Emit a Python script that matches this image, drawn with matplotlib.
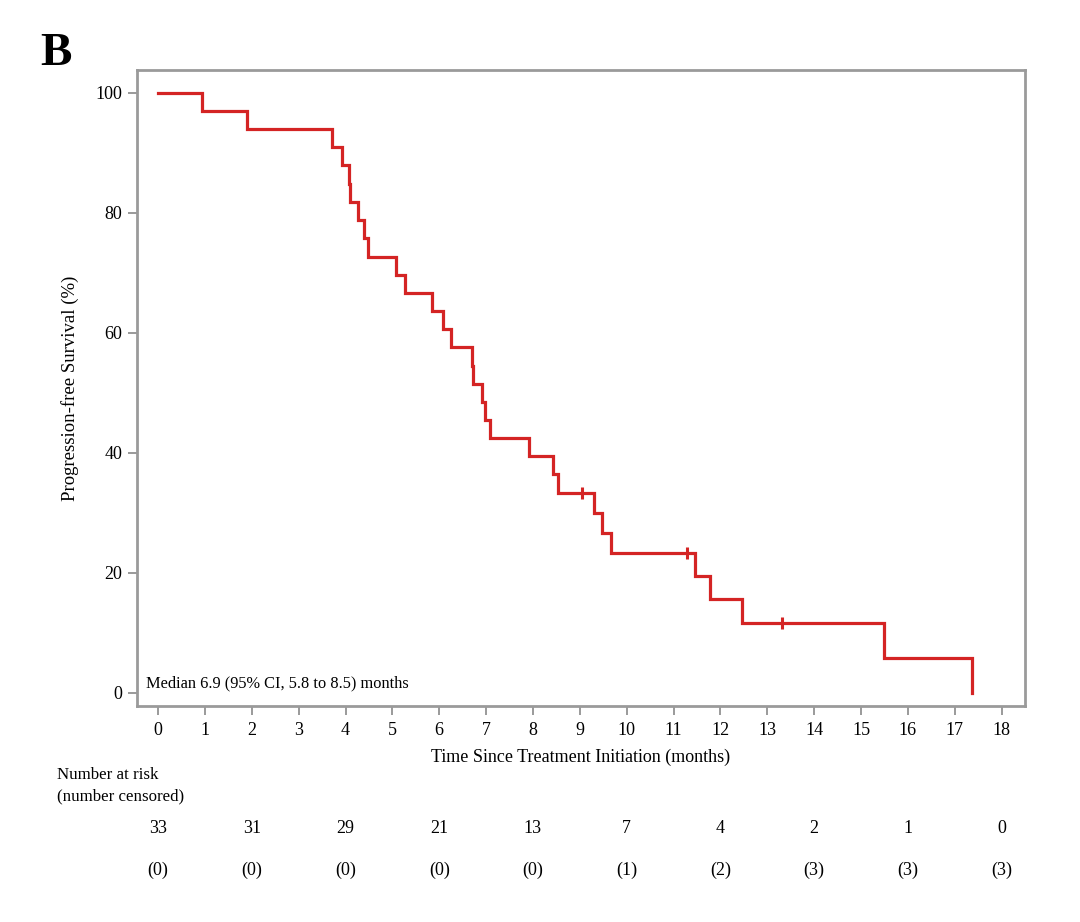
import matplotlib
matplotlib.use("Agg")
import matplotlib.pyplot as plt
from matplotlib.transforms import blended_transform_factory

plt.rcParams['font.family'] = ['Liberation Serif', 'DejaVu Serif']

# Kaplan-Meier step data (months, % progression-free)
step_times = [0, 0.93, 1.89, 3.71, 3.92, 4.07, 4.10, 4.26, 4.40, 4.49, 5.08, 5.27,
              5.84, 6.09, 6.25, 6.70, 6.72, 6.91, 6.98, 7.09, 7.91, 8.43, 8.53,
              9.31, 9.47, 9.66, 11.45, 11.77, 12.46, 15.49, 17.37]
step_surv = [100, 97.0, 93.9, 90.9, 87.9, 84.8, 81.8, 78.8, 75.8, 72.7, 69.7, 66.7,
             63.6, 60.6, 57.6, 54.5, 51.5, 48.5, 45.5, 42.4, 39.4, 36.4, 33.3,
             30.0, 26.7, 23.3, 19.4, 15.6, 11.7, 5.8, 0]
censor_times = [9.04, 11.29, 13.31]
censor_surv = [33.3, 23.3, 11.7]

risk_times = [0, 2, 4, 6, 8, 10, 12, 14, 16, 18]
at_risk = [33, 31, 29, 21, 13, 7, 4, 2, 1, 0]
n_censored = [0, 0, 0, 0, 0, 1, 2, 3, 3, 3]

x_ticks = list(range(0, 19))
y_ticks = [0, 20, 40, 60, 80, 100]

red = '#d42424'
gray = '#9a9a9a'

fig = plt.figure(figsize=(10.8, 9.22), dpi=100)
ax = fig.add_axes([137/1080, 1-706/922, (1025-137)/1080, (706-70)/922])

ax.step(step_times, step_surv, where='post', color=red, lw=2.3, solid_joinstyle='miter')
ax.plot(censor_times, censor_surv, linestyle='none', marker='|', color=red,
        markersize=9, markeredgewidth=2.2)

ax.set_xlim(-0.45, 18.5)
ax.set_ylim(-2.2, 103.8)
ax.set_xticks(x_ticks)
ax.set_yticks(y_ticks)
for s in ax.spines.values():
    s.set_color(gray)
    s.set_linewidth(2.0)
ax.tick_params(axis='both', colors=gray, labelcolor='black', length=6.5, width=1.4,
               labelsize=13, direction='out')
ax.tick_params(axis='x', pad=5)
ax.tick_params(axis='y', pad=4)

ax.set_xlabel('Time Since Treatment Initiation (months)', fontsize=13, labelpad=7)
ax.set_ylabel('Progression-free Survival (%)', fontsize=13.5, labelpad=12)

ax.text(-0.25, 1.5, 'Median 6.9 (95% CI, 5.8 to 8.5) months', fontsize=11.8,
        ha='left', va='center')

fig.text(40/1080, 1-54/922, 'B', fontsize=34, fontweight='bold', ha='left', va='center')

trans = blended_transform_factory(ax.transData, fig.transFigure)
fig.text(57/1080, 1-775/922, 'Number at risk', fontsize=12.2, ha='left', va='center')
fig.text(57/1080, 1-796/922, '(number censored)', fontsize=12.2, ha='left', va='center')
for t, n, c in zip(risk_times, at_risk, n_censored):
    ax.text(t, 1-828/922, str(n), transform=trans, fontsize=13, ha='center', va='center')
    ax.text(t, 1-870/922, f'({c})', transform=trans, fontsize=13, ha='center', va='center')

fig.savefig('out.png', dpi=100)
